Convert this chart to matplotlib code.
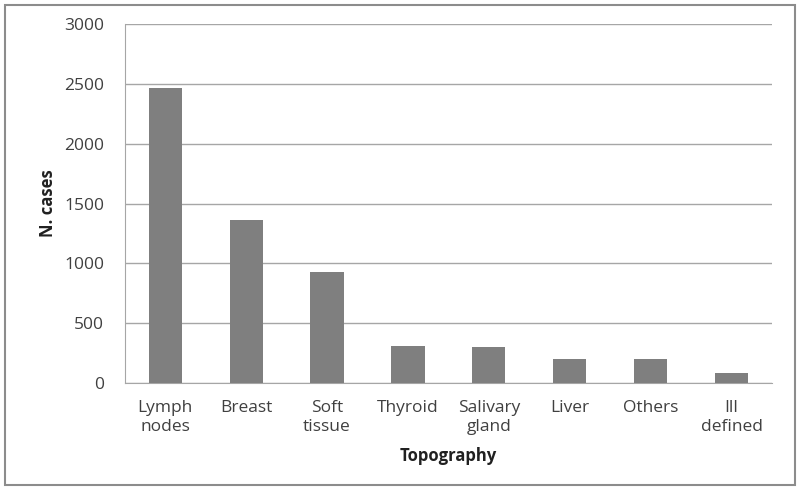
import matplotlib
matplotlib.use("Agg")
import matplotlib.pyplot as plt
from matplotlib.patches import Rectangle

# data
categories = ["Lymph\nnodes", "Breast", "Soft\ntissue", "Thyroid", "Salivary\ngland",
              "Liver", "Others", "Ill\ndefined"]
cases = [2467, 1361, 925, 314, 303, 206, 205, 81]
yticks = [0, 500, 1000, 1500, 2000, 2500, 3000]

plt.rcParams['font.family'] = ['Open Sans', 'DejaVu Sans']
txt = '#404040'

fig = plt.figure(figsize=(8, 4.9), dpi=100)
ax = fig.add_axes([0.156, 0.218, 0.809, 0.733])

x = range(len(categories))
ax.bar(x, cases, width=0.41, color='#7f7f7f', zorder=3)

ax.set_xlim(-0.5, len(categories) - 0.5)
ax.set_ylim(0, 3000)
ax.set_yticks(yticks)
ax.set_xticks(list(x))
ax.set_xticklabels(categories, fontsize=12.5, color=txt, linespacing=1.3)
ax.tick_params(axis='y', labelsize=12.5, colors=txt, length=0, pad=15)
ax.tick_params(axis='x', length=0, pad=12)

ax.yaxis.grid(True, color='#a6a6a6', linewidth=1)
ax.set_axisbelow(True)
for s in ['top', 'right']:
    ax.spines[s].set_visible(False)
ax.spines['left'].set_color('#a6a6a6')
ax.spines['bottom'].set_color('#a6a6a6')

ax.set_ylabel("N. cases", fontsize=12, fontweight='bold', color='#202020', labelpad=5)
ax.set_xlabel("Topography", fontsize=12, fontweight='bold', color='#202020', labelpad=8)

# grey frame around the whole chart
fig.patches.append(Rectangle((0.006, 0.01), 0.988, 0.98, transform=fig.transFigure,
                             fill=False, edgecolor='#8c8c8c', linewidth=1.5))

fig.savefig("out.png", dpi=100)
